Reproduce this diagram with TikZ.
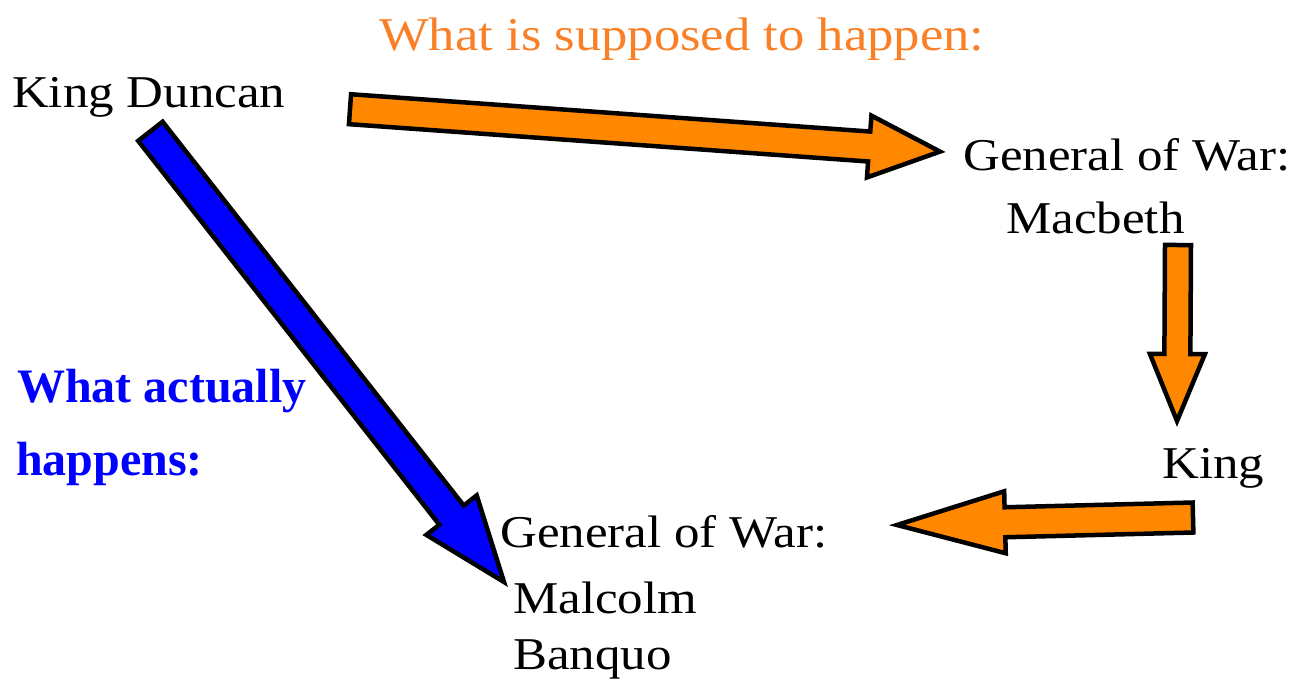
\documentclass[tikz,border=0pt]{standalone}
\usepackage{fontspec}
\setmainfont{Liberation Serif}[FakeStretch=1.12]
\newfontfamily\actualfont{Liberation Serif}
\usepackage{tikz}
\usetikzlibrary{calc}
\definecolor{orangec}{RGB}{255,136,0}
\definecolor{titlec}{RGB}{250,128,40}
\definecolor{bluec}{RGB}{0,0,255}

% block arrow: style colour, tail, tip, half shaft, half head, head length
\newcommand{\blockarrow}[6]{%
  \path ($(#3)!#6!(#2)$) coordinate (hb);
  \draw[bigarrow=#1] ($(#2)!#4!90:(#3)$) -- ($(hb)!#4!90:(#3)$) -- ($(hb)!#5!90:(#3)$)
    -- (#3) -- ($(hb)!#5!-90:(#3)$) -- ($(hb)!#4!-90:(#3)$) -- ($(#2)!#4!-90:(#3)$) -- cycle;}

\begin{document}
\begin{tikzpicture}[x=1pt, y=-1pt,
  person/.style={anchor=base west, inner sep=0pt, font=\fontsize{45.5}{52}\selectfont},
  heading/.style={anchor=base west, inner sep=0pt, font=\fontsize{47}{54}\selectfont, text=titlec},
  actual/.style={anchor=base west, inner sep=0pt, font=\actualfont\fontsize{48}{54}\selectfont\bfseries, text=bluec},
  bigarrow/.style={draw=black, line width=4.5pt, line join=miter, fill=#1}]
  \useasboundingbox (0,0) rectangle (1314,681);

  \node[heading] (plan) at (379,50) {What is supposed to happen:};
  \node[person] (duncan) at (12,107) {King Duncan};
  \node[person] (gen1) at (963,170) {General of War:};
  \node[person] (macbeth) at (1006,233) {Macbeth};
  \node[person] (king) at (1162,478) {King};
  \node[person] (gen2) at (500,547) {General of War:};
  \node[person] (malcolm) at (513,613) {Malcolm};
  \node[person] (banquo) at (513,669) {Banquo};
  \node[actual] (actual1) at (17,402) {What actually};
  \node[actual] (actual2) at (16,475) {happens:};

  % arrow ends
  \coordinate (planOut) at (350,109.2);
  \coordinate (planIn) at (940,151.6);
  \coordinate (kingOut) at (1178,245);
  \coordinate (kingIn) at (1177,421);
  \coordinate (backOut) at (1193,517.5);
  \coordinate (backIn) at (897,525);
  \coordinate (realOut) at (150.4,131.3);
  \coordinate (realIn) at (504,582);

  % what is supposed to happen
  \blockarrow{orangec}{planOut}{planIn}{15pt}{31pt}{71pt}
  \blockarrow{orangec}{kingOut}{kingIn}{13pt}{27.5pt}{67pt}
  \blockarrow{orangec}{backOut}{backIn}{15pt}{31pt}{108pt}
  % what actually happens
  \blockarrow{bluec}{realOut}{realIn}{15.5pt}{32pt}{85pt}
\end{tikzpicture}
\end{document}
